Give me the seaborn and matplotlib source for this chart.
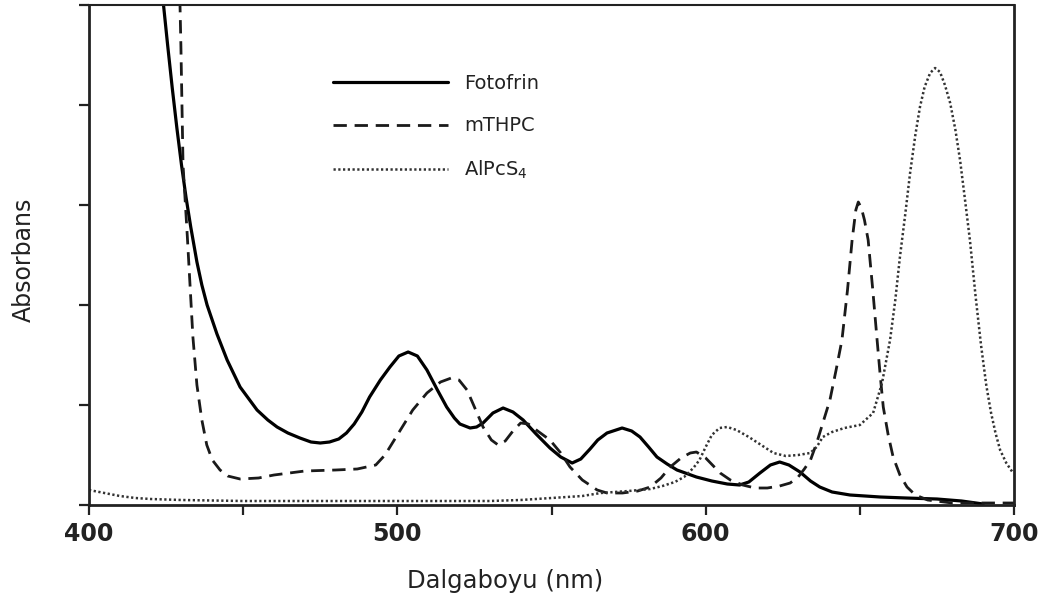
import numpy as np
import pandas as pd
import matplotlib
matplotlib.use("Agg")
import matplotlib.pyplot as plt
import seaborn as sns

# ---- data ----
foto_x = [422.5, 424, 425.5, 427, 428.5, 430, 431.5, 433, 435, 436.6, 438.3, 441.5, 444.8,
          449, 454.5, 458, 461, 464.5, 468.4, 472, 475, 478, 481, 483.5, 486, 488.5, 491,
          494.5, 497.6, 500.5, 503.5,
          506.5, 509.6, 513, 516, 518.5, 520.3, 523.6, 525.7, 527.8, 531, 534.3, 537.5, 540.8,
          545, 549.5, 553, 556.7, 559.5, 562.5, 565, 568, 572.9, 576, 578.7, 581.5, 584.2,
          587.5, 590.7, 597, 602, 607, 611, 614, 617.6, 621, 624, 627, 630.6, 634, 637, 641,
          646.8, 656.6, 665, 675, 683, 690]
foto_y = [5.5, 5.05, 4.6, 4.17, 3.77, 3.4, 3.07, 2.78, 2.43, 2.2, 2.0, 1.71, 1.45,
          1.18, 0.95, 0.85, 0.78, 0.72, 0.67, 0.63, 0.62, 0.63, 0.66, 0.72, 0.81, 0.93, 1.08,
          1.25, 1.38, 1.49, 1.53,
          1.49, 1.35, 1.15, 0.98, 0.87, 0.81, 0.77, 0.78, 0.82, 0.92, 0.97, 0.93, 0.85,
          0.71, 0.57, 0.48, 0.42, 0.46, 0.56, 0.65, 0.72, 0.77, 0.74, 0.68, 0.58, 0.48,
          0.41, 0.35, 0.28, 0.24, 0.21, 0.20, 0.23, 0.32, 0.40, 0.43, 0.40, 0.33, 0.24, 0.18, 0.13,
          0.10, 0.08, 0.07, 0.06, 0.04, 0.01]

mthpc_x = [429.3, 429.8, 430.5, 431.9, 433.7, 435, 436.6, 438.2, 440, 442.5, 445, 449,
           455, 460, 465, 470, 480, 487, 493, 496, 501, 505, 509.6, 514, 517.5, 520,
           522.6, 525, 527.8, 530.5, 532.7, 535, 537.5, 540, 542.5, 545.5, 549.5, 553, 556,
           560, 564.8, 568, 573, 578, 582, 585.5, 588.5, 592, 595, 597, 600, 604.7, 608, 612,
           616, 620, 624, 627.4, 630, 632, 634, 636, 638, 640.3, 642.3, 644.2, 646, 647.5, 648.7,
           649.5, 650.5, 651.5, 652.7, 654.2, 655.6, 656.6, 657.6, 659.2, 660.8, 663, 665.3,
           668, 672, 680, 700]
mthpc_y = [5.3, 4.6, 3.4, 2.68, 1.68, 1.2, 0.85, 0.6, 0.45, 0.35, 0.29, 0.26,
           0.27, 0.30, 0.32, 0.34, 0.35, 0.36, 0.40, 0.50, 0.75, 0.95, 1.12, 1.23, 1.27, 1.25,
           1.15, 0.98, 0.78, 0.65, 0.60, 0.64, 0.74, 0.82, 0.81, 0.74, 0.65, 0.52, 0.38,
           0.25, 0.15, 0.12, 0.12, 0.14, 0.18, 0.27, 0.38, 0.47, 0.52, 0.53, 0.47, 0.32, 0.25, 0.20,
           0.17, 0.17, 0.19, 0.22, 0.28, 0.36, 0.45, 0.62, 0.82, 1.05, 1.35, 1.65, 2.15, 2.65, 2.95,
           3.03, 2.97, 2.85, 2.65, 2.15, 1.65, 1.30, 0.98, 0.70, 0.48, 0.30, 0.18,
           0.10, 0.05, 0.02, 0.02]

alpc_x = [400, 405, 410, 415, 420, 430, 450, 500, 530, 540, 550, 560, 566, 575, 582, 586,
          590, 593, 596, 598, 600, 602, 604.5, 607, 610, 614, 618, 622, 626, 630, 633.9, 636,
          638, 641, 645, 650, 654.3, 657.2, 659.8, 661.5, 663, 664.7, 666.3, 668, 669.5,
          671, 672.8, 674.4, 676, 677.6, 679.3, 681, 682.5, 684, 685.7, 687.5, 689.3, 691,
          692.5, 694, 695.5, 697.5, 699.7]
alpc_y = [0.15, 0.12, 0.09, 0.07, 0.06, 0.05, 0.04, 0.04, 0.04, 0.05, 0.07, 0.09, 0.12, 0.14, 0.16, 0.19,
          0.23, 0.28, 0.37, 0.45, 0.58, 0.70, 0.77, 0.78, 0.75, 0.68, 0.60, 0.52, 0.49, 0.50, 0.52, 0.58,
          0.68, 0.73, 0.77, 0.80, 0.92, 1.22, 1.65, 2.05, 2.48, 2.90, 3.32, 3.70, 3.98,
          4.18, 4.32, 4.37, 4.33, 4.20, 4.02, 3.75, 3.45, 3.08, 2.65, 2.10, 1.60, 1.20,
          0.93, 0.72, 0.55, 0.42, 0.32]

series_names = ["Fotofrin", "mTHPC", "AlPcS$_4$"]
x_ticks_major = [400, 500, 600, 700]
x_ticks_minor = [450, 550, 650]
y_ticks = [0, 1, 2, 3, 4, 5]

sns.set_theme(style="white")
plt.rcParams["font.family"] = ["DejaVu Sans"]

fig = plt.figure(figsize=(10.42, 6.06), dpi=100)
ax = fig.add_axes([89 / 1042, 1 - 505 / 606, 925 / 1042, 500 / 606])

styles = [
    dict(color="black", lw=2.3, dashes=None),
    dict(color="#1a1a1a", lw=2.0, dashes=(4.8, 2.8)),
    dict(color="#333333", lw=1.8, dashes=(0.9, 1.0)),
]
data = [(foto_x, foto_y), (mthpc_x, mthpc_y), (alpc_x, alpc_y)]
for (xs, ys), name, st in zip(data, series_names, styles):
    df = pd.DataFrame({"x": xs, "y": ys})
    sns.lineplot(data=df, x="x", y="y", ax=ax, estimator=None, sort=True,
                 color=st["color"], linewidth=st["lw"], label=name)
    if st["dashes"] is not None:
        ax.lines[-1].set_dashes(st["dashes"])

ax.set_xlim(400, 700)
ax.set_ylim(0, 5)
ax.set_xticks(x_ticks_major + x_ticks_minor)
ax.set_xticklabels([str(t) if t in x_ticks_major else "" for t in x_ticks_major + x_ticks_minor])
ax.set_yticks(y_ticks)
ax.set_yticklabels([])
ax.tick_params(axis="both", direction="out", length=7, width=1.6, color="#222222",
               bottom=True, left=True)
ax.tick_params(axis="x", labelsize=17, pad=5)
for lab in ax.get_xticklabels():
    lab.set_fontweight("bold")
    lab.set_color("#222222")
for sp in ax.spines.values():
    sp.set_visible(True)
    sp.set_color("#222222")
    sp.set_linewidth(2.0)
ax.spines["top"].set_linewidth(1.5)

ax.set_xlabel("Dalgaboyu (nm)", fontsize=17.5, color="#222222")
ax.set_ylabel("Absorbans", fontsize=17, color="#222222")
ax.xaxis.set_label_coords((505 - 89) / 925, -0.128)
ax.yaxis.set_label_coords(-0.058, 0.49)

leg = ax.legend(loc="upper left", bbox_to_anchor=((333 - 89) / 925, (505 - 74) / 500),
                frameon=False, fontsize=14, handlelength=5.9, handletextpad=0.85,
                labelspacing=1.2, borderaxespad=0, borderpad=0)
for t in leg.get_texts():
    t.set_color("#222222")

fig.savefig("out.png", dpi=100, facecolor="white")
